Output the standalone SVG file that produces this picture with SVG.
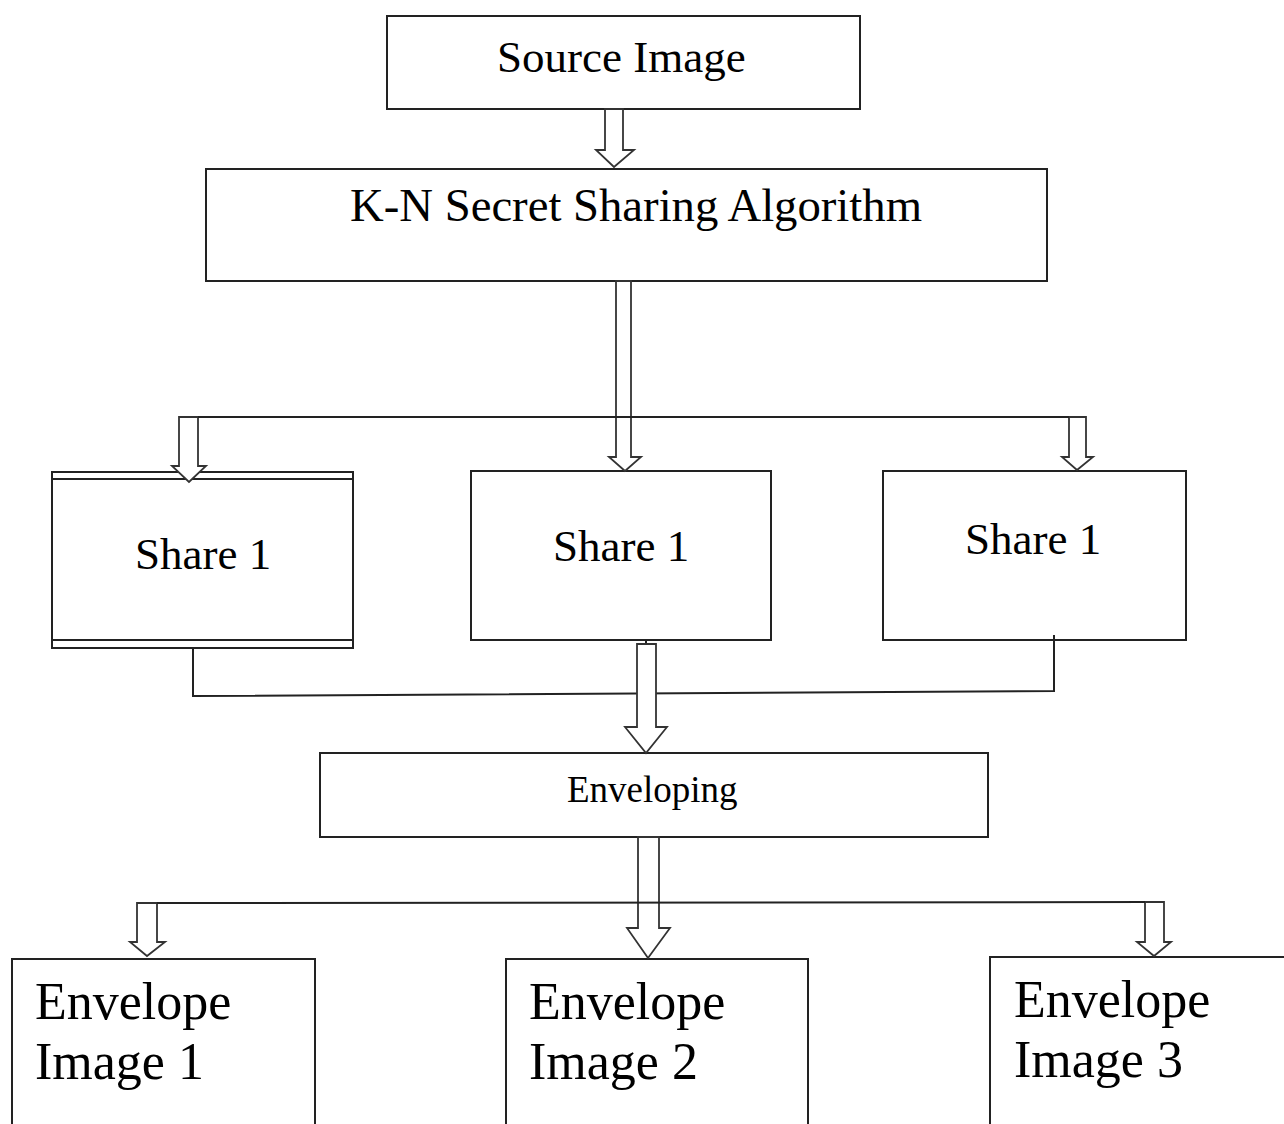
<svg xmlns="http://www.w3.org/2000/svg" width="1284" height="1124" viewBox="0 0 1284 1124">
<style>
.box{fill:#fff;stroke:#222;stroke-width:2}
.t{font-family:"Liberation Serif","Times New Roman",serif;fill:#000}
.arr{fill:#fff;stroke:#333;stroke-width:1.8;stroke-linejoin:miter}
.ln{fill:none;stroke:#222;stroke-width:2}
</style>
<rect width="1284" height="1124" fill="#fff"/>
<g id="source"><rect class="box" x="387" y="16" width="473" height="93"/><text class="t" x="497" y="72" font-size="45">Source Image</text></g>
<g id="kn"><rect class="box" x="206" y="169" width="841" height="112"/><text class="t" x="350" y="221" font-size="46" textLength="572" lengthAdjust="spacingAndGlyphs">K-N Secret Sharing Algorithm</text></g>
<g id="share-left"><rect class="box" x="52" y="472" width="301" height="176"/><line class="ln" x1="52" y1="479" x2="353" y2="479"/><line class="ln" x1="52" y1="640" x2="353" y2="640"/><text class="t" x="135" y="569" font-size="45">Share 1</text></g>
<g id="share-mid"><rect class="box" x="471" y="471" width="300" height="169"/><text class="t" x="553" y="561" font-size="45">Share 1</text></g>
<g id="share-right"><rect class="box" x="883" y="471" width="303" height="169"/><text class="t" x="965" y="554" font-size="45">Share 1</text></g>
<g id="enveloping"><rect class="box" x="320" y="753" width="668" height="84"/><text class="t" x="567" y="802" font-size="37">Enveloping</text></g>
<g id="env1"><rect class="box" x="12" y="959" width="303" height="180"/><text class="t" x="35" y="1019" font-size="52">Envelope</text><text class="t" x="35" y="1079" font-size="52">Image 1</text></g>
<g id="env2"><rect class="box" x="506" y="959" width="302" height="180"/><text class="t" x="529" y="1019" font-size="52">Envelope</text><text class="t" x="529" y="1079" font-size="52">Image 2</text></g>
<g id="env3"><rect class="box" x="990" y="957" width="310" height="180"/><text class="t" x="1014" y="1017" font-size="52">Envelope</text><text class="t" x="1014" y="1077" font-size="52">Image 3</text></g>
<g id="connectors">
<polygon class="arr" points="605,109 623,109 623,150 634,150 614,167 596,150 605,150"/>
<polygon class="arr" points="616,281 631,281 631,457 641,457 625,471 609,457 616,457"/>
<polygon class="arr" points="179,417 198,417 198,466 206,466 189,482 172,466 179,466"/>
<polygon class="arr" points="1069,417 1086,417 1086,457 1093,457 1077,470 1062,457 1069,457"/>
<line class="ln" x1="198" y1="417" x2="1069" y2="417"/>
<polyline class="ln" points="193,648 193,696 1054,691 1054,635"/>
<line class="ln" x1="646" y1="640" x2="646" y2="644"/>
<polygon class="arr" points="637,644 656,644 656,727 667,727 646,753 625,727 637,727"/>
<polygon class="arr" points="638,837 659,837 659,928 670,928 648,958 627,928 638,928"/>
<polygon class="arr" points="137,903 157,903 157,942 165,942 147,956 130,942 137,942"/>
<polygon class="arr" points="1145,902 1164,902 1164,942 1171,942 1154,956 1137,942 1145,942"/>
<line class="ln" x1="157" y1="903" x2="1145" y2="902"/>
</g>
</svg>
